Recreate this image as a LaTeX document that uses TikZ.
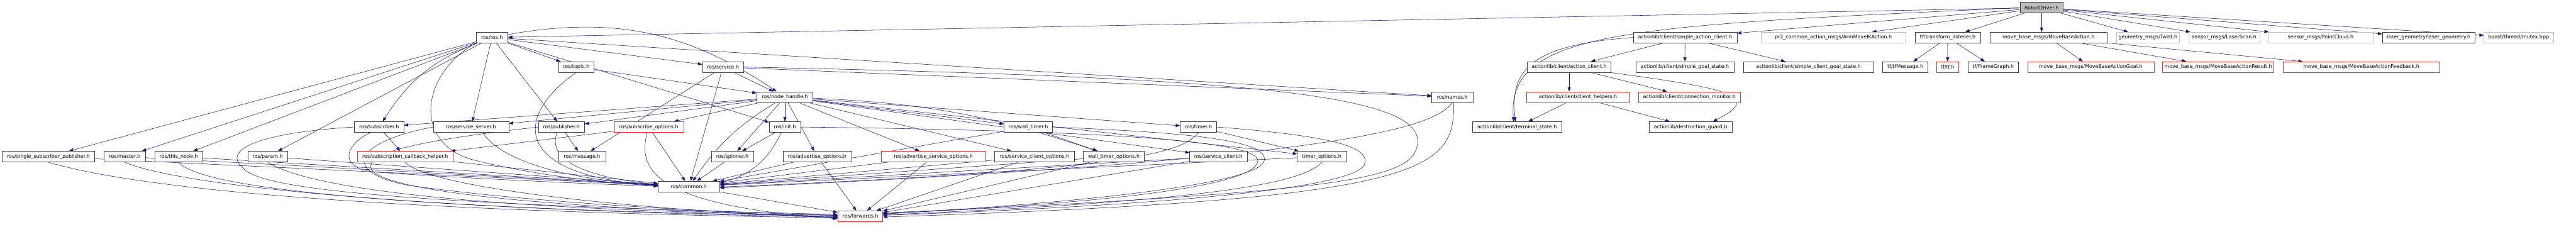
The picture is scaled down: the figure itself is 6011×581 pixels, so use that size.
\documentclass[tikz,border=0pt]{standalone}
\usepackage{fontspec}
\setmainfont{DejaVu Sans}
\usetikzlibrary{arrows.meta}
\definecolor{navy}{RGB}{25,25,112}
\definecolor{redb}{RGB}{255,40,40}
\definecolor{grayb}{RGB}{191,191,191}
\definecolor{darkb}{RGB}{64,64,64}
\pgfdeclarelayer{bg}
\pgfsetlayers{bg,main}
\begin{document}
\begin{tikzpicture}[x=1pt,y=1pt,
  box/.style={draw=darkb, fill=white, line width=0.9pt, minimum height=25pt, inner sep=0pt,
    font=\fontsize{11.7}{14}\selectfont, text=black},
  redbox/.style={box, draw=redb},
  graybox/.style={box, draw=grayb},
  dep/.style={draw=navy, line width=0.8pt, -{Triangle[length=10pt,width=7.5pt]}}]
\useasboundingbox (0,0) rectangle (6011,-581);
% row 0
\node[box, fill=grayb, minimum width=100pt] (rd) at (4764,-18) {RobotDriver.h};
% row 1
\node[box, minimum width=74pt] (ros) at (1148,-87.5) {ros/ros.h};
\node[box, minimum width=242pt] (sac) at (3932,-87.5) {actionlib/client/simple\_action\_client.h};
\node[graybox, minimum width=338pt] (pr2) at (4278,-87.5) {pr2\_common\_action\_msgs/ArmMoveIKAction.h};
\node[box, minimum width=152pt] (tfl) at (4545,-87.5) {tf/transform\_listener.h};
\node[box, minimum width=274pt] (mba) at (4780,-87.5) {move\_base\_msgs/MoveBaseAction.h};
\node[graybox, minimum width=148pt] (twist) at (5012,-87.5) {geometry\_msgs/Twist.h};
\node[graybox, minimum width=166pt] (laser) at (5190,-87.5) {sensor\_msgs/LaserScan.h};
\node[graybox, minimum width=246pt] (pc) at (5415,-87.5) {sensor\_msgs/PointCloud.h};
\node[box, minimum width=216pt] (lg) at (5667,-87.5) {laser\_geometry/laser\_geometry.h};
\node[graybox, minimum width=162pt] (mutex) at (5877,-87.5) {boost/thread/mutex.hpp};
% row 2
\node[box, minimum width=83pt] (topic) at (1344.5,-156.5) {ros/topic.h};
\node[box, minimum width=96pt] (service) at (1687,-156.5) {ros/service.h};
\node[box, minimum width=195pt] (ac) at (3661.5,-156.5) {actionlib/client/action\_client.h};
\node[box, minimum width=229pt] (sgs) at (3931.5,-156.5) {actionlib/client/simple\_goal\_state.h};
\node[box, minimum width=304pt] (scgs) at (4220,-156.5) {actionlib/client/simple\_client\_goal\_state.h};
\node[box, minimum width=106pt] (tfm) at (4446,-156.5) {tf/tfMessage.h};
\node[redbox, minimum width=51pt] (tf) at (4544.5,-156.5) {tf/tf.h};
\node[box, minimum width=118pt] (fg) at (4651,-156.5) {tf/FrameGraph.h};
\node[redbox, minimum width=295pt] (mbag) at (4878.5,-156.5) {move\_base\_msgs/MoveBaseActionGoal.h};
\node[redbox, minimum width=260pt] (mbar) at (5176,-156.5) {move\_base\_msgs/MoveBaseActionResult.h};
\node[redbox, minimum width=366pt] (mbaf) at (5510,-156.5) {move\_base\_msgs/MoveBaseActionFeedback.h};
% row 3
\node[box, minimum width=131pt] (nh) at (1831.5,-226.5) {ros/node\_handle.h};
\node[box, minimum width=96pt] (names) at (3389,-226.5) {ros/names.h};
\node[redbox, minimum width=240pt] (ch) at (3682,-226.5) {actionlib/client/client\_helpers.h};
\node[redbox, minimum width=238pt] (cm) at (3942,-226.5) {actionlib/client/connection\_monitor.h};
% row 4
\node[box, minimum width=115pt] (sub) at (884.5,-296.5) {ros/subscriber.h};
\node[box, minimum width=176pt] (ss) at (1099,-296.5) {ros/service\_server.h};
\node[box, minimum width=108pt] (pub) at (1310,-296.5) {ros/publisher.h};
\node[redbox, minimum width=162pt] (so) at (1514,-296.5) {ros/subscribe\_options.h};
\node[box, minimum width=73pt] (init) at (1831.5,-296.5) {ros/init.h};
\node[box, minimum width=113pt] (wt) at (2399.5,-296.5) {ros/wall\_timer.h};
\node[box, minimum width=85pt] (timer) at (2796.5,-296.5) {ros/timer.h};
\node[box, minimum width=208pt] (ts) at (3540,-296.5) {actionlib/client/terminal\_state.h};
\node[box, minimum width=194pt] (dg) at (3945,-296.5) {actionlib/destruction\_guard.h};
% row 5
\node[box, minimum width=216pt] (ssp) at (113,-365.5) {ros/single\_subscriber\_publisher.h};
\node[box, minimum width=96pt] (master) at (291,-365.5) {ros/master.h};
\node[box, minimum width=112pt] (thisnode) at (417,-365.5) {ros/this\_node.h};
\node[box, minimum width=93pt] (param) at (624.5,-365.5) {ros/param.h};
\node[redbox, minimum width=223pt] (sch) at (945.5,-365.5) {ros/subscription\_callback\_helper.h};
\node[box, minimum width=110pt] (msg) at (1358,-365.5) {ros/message.h};
\node[box, minimum width=98pt] (spin) at (1709,-365.5) {ros/spinner.h};
\node[box, minimum width=160pt] (ao) at (1907,-365.5) {ros/advertise\_options.h};
\node[redbox, minimum width=244pt] (aso) at (2178,-365.5) {ros/advertise\_service\_options.h};
\node[box, minimum width=186pt] (sco) at (2414,-365.5) {ros/service\_client\_options.h};
\node[box, minimum width=142pt] (wto) at (2599,-365.5) {wall\_timer\_options.h};
\node[box, minimum width=134pt] (sc) at (2843,-365.5) {ros/service\_client.h};
\node[box, minimum width=115pt] (to) at (3084.5,-365.5) {timer\_options.h};
% rows 6,7
\node[box, minimum width=143pt] (common) at (1607.5,-435.5) {ros/common.h};
\node[redbox, minimum width=105pt] (fwd) at (2007.5,-504.5) {ros/forwards.h};

\begin{pgfonlayer}{bg}
\fill[white] (0,0) rectangle (6011,-581);
% RobotDriver
\draw[dep] (rd) -- (ros);
\draw[dep] (rd) -- (sac);
\draw[dep] (rd) -- (pr2);
\draw[dep] (rd) -- (tfl);
\draw[dep] (rd.south) -- (rd.south |- mba.north);
\draw[dep] (rd) -- (twist);
\draw[dep] (rd) -- (laser);
\draw[dep] (rd) -- (pc);
\draw[dep] (rd) -- (lg);
\draw[dep] (rd) -- (mutex);
\draw[dep] (rd.west) .. controls (3800,-60) and (3515,-70) .. ([xshift=-8]ts.north);
% actionlib
\draw[dep] (sac.west) .. controls (3560,-105) and (3525,-170) .. ([xshift=-4]ts.north);
\draw[dep] (sac) -- (ac);
\draw[dep] (sac) -- (sgs);
\draw[dep] (sac) -- (scgs);
\draw[dep] (ac.south) -- (ac.south |- ch.north);
\draw[dep] (ac) -- (cm);
\draw[dep] (ac.south east) .. controls (4020,-205) and (4120,-222) .. ([xshift=52]dg.north);
\draw[dep] (ch) -- (ts);
\draw[dep] (ch) -- (dg);
% tf, move_base
\draw[dep] (tfl) -- (tfm);
\draw[dep] (tfl) -- (tf);
\draw[dep] (tfl) -- (fg);
\draw[dep] (mba) -- (mbag);
\draw[dep] (mba) -- (mbar);
\draw[dep] (mba) -- (mbaf);
% ros.h
\draw[dep] (ros) -- (ssp);
\draw[dep] (ros) -- (master);
\draw[dep] (ros) -- (thisnode);
\draw[dep] (ros) -- (param);
\draw[dep] (ros) to[bend right=18] (sub);
\draw[dep] (ros) -- (ss);
\draw[dep] (ros) -- (pub);
\draw[dep] (ros) -- (topic);
\draw[dep] (ros) -- (service);
\draw[dep] (ros) to[bend left=22] (nh);
\draw[dep] (ros) -- (names);
\draw[dep] (ros) -- (init);
\draw[dep] (ros.south west) .. controls (985,-170) and (960,-330) .. (1100,-372) .. controls (1250,-410) and (1420,-428) .. ([yshift=2]common.west);
% topic, service
\draw[dep] (topic) -- (nh);
\draw[dep] (topic.south) .. controls (1200,-270) and (1190,-410) .. ([yshift=3]common.west);
\draw[dep] (service) -- (nh);
\draw[dep] (service) -- (common);
\draw[dep] (service) -- (msg);
\draw[dep] (service) -- (names);
\draw[dep] (service.east) .. controls (2900,-180) and (3310,-220) .. (3308,-330) .. controls (3306,-420) and (3150,-445) .. ([yshift=6]fwd.east);
% node_handle
\draw[dep] (nh) -- (sub);
\draw[dep] (nh) -- (ss);
\draw[dep] (nh) -- (pub);
\draw[dep] (nh) -- (so);
\draw[dep] (nh) -- (init);
\draw[dep] (nh) -- (spin);
\draw[dep] (nh) -- (ao);
\draw[dep] (nh) -- (aso);
\draw[dep] (nh) -- (wt);
\draw[dep] (nh) -- (sco);
\draw[dep] (nh) -- (timer);
\draw[dep] (nh) -- (sc);
\draw[dep] (nh) -- (to);
\draw[dep] (nh) to[bend right=12] (common);
\draw[dep] (nh) to[bend left=8] (wto);
% left row 5
\draw[dep] (ssp) -- (common);
\draw[dep] (master) -- (common);
\draw[dep] (thisnode) -- (common);
\draw[dep] (param) -- (common);
\draw[dep] (ssp.south) .. controls (350,-450) and (1000,-495) .. ([yshift=-4]fwd.west);
\draw[dep] (master.south) .. controls (420,-435) and (1000,-492) .. ([yshift=-2]fwd.west);
\draw[dep] (thisnode.south) .. controls (470,-445) and (1000,-490) .. (fwd.west);
\draw[dep] (param.south) .. controls (720,-440) and (1100,-490) .. ([yshift=2]fwd.west);
\draw[dep] (sch) -- (common);
\draw[dep] (sch.south) .. controls (1000,-440) and (1500,-492) .. ([yshift=-3]fwd.west);
% subscriber, service_server, publisher
\draw[dep] (sub) -- (sch);
\draw[dep] (sub.west) .. controls (600,-310) and (520,-350) .. (565,-390) .. controls (600,-440) and (900,-475) .. ([yshift=4]fwd.west);
\draw[dep] ([xshift=-20]sub.south) .. controls (800,-340) and (790,-395) .. (880,-402) .. controls (1150,-420) and (1400,-430) .. ([yshift=1]common.west);
\draw[dep] ([xshift=28]ss.south) .. controls (1150,-350) and (1250,-415) .. ([yshift=4]common.west);
\draw[dep] (ss.west) .. controls (830,-330) and (790,-400) .. (950,-432) .. controls (1250,-475) and (1700,-497) .. ([yshift=2]fwd.west);
\draw[dep] (pub) -- (msg);
\draw[dep] ([xshift=-10]pub.south) .. controls (1280,-360) and (1330,-410) .. ([yshift=5]common.west);
\draw[dep] (pub.west) .. controls (1050,-320) and (830,-350) .. (870,-400) .. controls (950,-470) and (1600,-495) .. ([yshift=-1]fwd.west);
% subscribe_options
\draw[dep] (so) -- (sch);
\draw[dep] (so) -- (common);
\draw[dep] ([xshift=-4]so.south) .. controls (1490,-390) and (1510,-478) .. ([yshift=-6]fwd.west);
% init, spinner
\draw[dep] (init) -- (spin);
\draw[dep] (init) to[bend left=25] (common);
\draw[dep] (init.east) .. controls (2600,-305) and (2935,-330) .. (2935,-375) .. controls (2935,-440) and (2500,-480) .. ([yshift=8]fwd.east);
\draw[dep] (spin) -- (common);
% right row 5
\draw[dep] (ao) -- (common);
\draw[dep] (ao) -- (fwd);
\draw[dep] (aso) -- (common);
\draw[dep] (aso) -- (fwd);
\draw[dep] (sco) -- (common);
\draw[dep] (sco) -- (fwd);
\draw[dep] (wto) -- (common);
\draw[dep] (wto) -- (fwd);
\draw[dep] (sc) -- (common);
\draw[dep] (sc) -- (fwd);
\draw[dep] (to) -- (common);
\draw[dep] (to.south) .. controls (3040,-430) and (2800,-470) .. ([yshift=3]fwd.east);
% timers
\draw[dep] (timer) -- (to);
\draw[dep] (timer.south) .. controls (2760,-350) and (2700,-395) .. ([yshift=-1]common.east);
\draw[dep] (timer.east) .. controls (3150,-320) and (3190,-350) .. (3185,-380) .. controls (3180,-440) and (2700,-480) .. ([yshift=2]fwd.east);
\draw[dep] (wt) -- (wto);
\draw[dep] (wt) -- (common);
\draw[dep] (wt.east) .. controls (2800,-310) and (2960,-330) .. (2950,-375) .. controls (2940,-430) and (2500,-475) .. ([yshift=5]fwd.east);
% names
\draw[dep] (names.south) .. controls (3350,-290) and (3200,-370) .. ([yshift=-3]common.east);
\draw[dep] ([xshift=3]names.south) .. controls (3395,-400) and (3330,-465) .. ([yshift=-2]fwd.east);
% common
\draw[dep] (common) -- (fwd);
\end{pgfonlayer}
\end{tikzpicture}
\end{document}
